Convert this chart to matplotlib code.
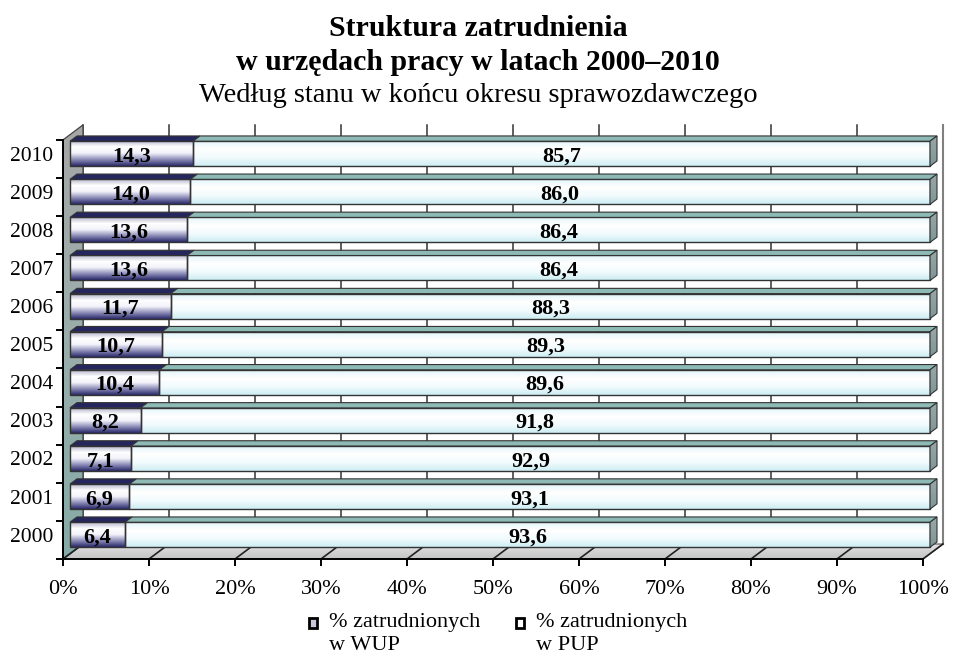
import numpy as np
import matplotlib.pyplot as plt
from matplotlib.patches import Polygon, Rectangle
from matplotlib.colors import LinearSegmentedColormap

plt.rcParams['font.family'] = ['Liberation Serif', 'DejaVu Serif']

# data
years = [2000, 2001, 2002, 2003, 2004, 2005, 2006, 2007, 2008, 2009, 2010]
wup = [6.4, 6.9, 7.1, 8.2, 10.4, 10.7, 11.7, 13.6, 13.6, 14.0, 14.3]
pup = [93.6, 93.1, 92.9, 91.8, 89.6, 89.3, 88.3, 86.4, 86.4, 86.0, 85.7]
x_ticks = [0, 10, 20, 30, 40, 50, 60, 70, 80, 90, 100]
x_tick_labels = [f"{t}%" for t in x_ticks]
legend_labels = ["% zatrudnionych\nw WUP", "% zatrudnionych\nw PUP"]

# layout (pixels of the 954x654 picture)
W, H = 954, 654
PX_X = 8.6      # px per percent
PX_Y = 38.1     # px per category
X0_PX, YB_PX = 63, 559
DX = 20 / PX_X  # full depth of the 3d box, in data units
DY = 15 / PX_Y
DF, DB = 0.35, 0.7   # bars sit between these depth fractions
BAR_H = 25 / PX_Y

xlim = (-1, 103.5)
ylim = (-0.6, 10.5 + DY + 0.12)

fig = plt.figure(figsize=(W / 100, H / 100), dpi=100)
left = X0_PX + xlim[0] * PX_X
right = X0_PX + xlim[1] * PX_X
bot = YB_PX - (ylim[0] + 0.5) * PX_Y
top = YB_PX - (ylim[1] + 0.5) * PX_Y
ax = fig.add_axes([left / W, 1 - bot / H, (right - left) / W, (bot - top) / H])
ax.patch.set_visible(False)


def proj(x, y, d):
    return (x + d * DX, y + d * DY)


def shaded(verts, colors, z, edge='#3a3a3a', lw=0.9):
    poly = Polygon(verts, closed=True, fc='none', ec=edge, lw=lw, zorder=z + 0.1)
    ax.add_patch(poly)
    xs = [v[0] for v in verts]
    ys = [v[1] for v in verts]
    cmap = LinearSegmentedColormap.from_list('g', colors)
    im = ax.imshow(np.linspace(0, 1, 100).reshape(-1, 1), cmap=cmap,
                   extent=(min(xs), max(xs), min(ys), max(ys)),
                   aspect='auto', origin='upper', interpolation='bilinear', zorder=z)
    im.set_clip_path(poly)


n = len(years)
ylo, yhi = -0.5, n - 0.5

# back wall
ax.add_patch(Polygon([proj(0, ylo, 1), proj(100, ylo, 1), proj(100, yhi, 1), proj(0, yhi, 1)],
                     closed=True, fc='white', ec='none', zorder=0.5))
for t in x_ticks:
    ax.plot([t + DX] * 2, [ylo + DY, yhi + DY], color='#808080' if t == 100 else '#333333',
            lw=1.5 if t == 100 else 1.1, zorder=0.8)

# floor
shaded([proj(0, ylo, 0), proj(100, ylo, 0), proj(100, ylo, 1), proj(0, ylo, 1)],
       ['#e2e2e2', '#c4c4c4'], 1, edge='#555555', lw=0.8)
for t in x_ticks:
    p0, p1 = proj(t, ylo, 0), proj(t, ylo, 1)
    ax.plot([p0[0], p1[0]], [p0[1], p1[1]], color='#222222', lw=1.2, zorder=1.3)

# left wall
shaded([proj(0, ylo, 0), proj(0, yhi, 0), proj(0, yhi, 1), proj(0, ylo, 1)],
       ['#a6a6a6', '#9aaeac', '#86aaa6'], 1, edge='#444444', lw=0.9)

# bars
wup_front = ['#b4b4cc', '#ffffff', '#f2f2fa', '#8c8cb8', '#2a2a6a']
pup_front = ['#e4f6fa', '#ffffff', '#f2fbfd', '#cdedf3']
for i in range(n):
    a = wup[i]
    y0, y1 = i - BAR_H / 2, i + BAR_H / 2
    for x0, x1, fcol, tcol in [(0, a, wup_front, '#26265e'), (a, a + pup[i], pup_front, '#8dbab5')]:
        shaded([proj(x0, y0, DF), proj(x1, y0, DF), proj(x1, y1, DF), proj(x0, y1, DF)],
               fcol, 3, edge='#333333', lw=1.0)
        ax.add_patch(Polygon([proj(x0, y1, DF), proj(x1, y1, DF), proj(x1, y1, DB), proj(x0, y1, DB)],
                             closed=True, fc=tcol, ec='#333333', lw=0.8, zorder=3.2))
    x_end = a + pup[i]
    shaded([proj(x_end, y0, DF), proj(x_end, y0, DB), proj(x_end, y1, DB), proj(x_end, y1, DF)],
           ['#9aa8a8', '#7f9696'], 3.3, edge='#333333', lw=0.8)
    cx, cy = proj(a / 2, i, DF)
    ax.text(cx, cy - 0.07, f"{a:.1f}".replace('.', ','), ha='center', va='center',
            fontsize=16, weight='bold', zorder=6)
    cx, cy = proj(a + pup[i] / 2, i, DF)
    ax.text(cx, cy - 0.07, f"{pup[i]:.1f}".replace('.', ','), ha='center', va='center',
            fontsize=16, weight='bold', zorder=6)

# axes
for s in ['top', 'right']:
    ax.spines[s].set_visible(False)
ax.spines['left'].set_position(('data', 0))
ax.spines['left'].set_bounds(ylo, yhi)
ax.spines['bottom'].set_position(('data', ylo))
ax.spines['bottom'].set_bounds(0, 100)
for s in ['left', 'bottom']:
    ax.spines[s].set_linewidth(1.4)
    ax.spines[s].set_zorder(2.5)

ax.set_xticks(x_ticks)
ax.set_xticklabels(x_tick_labels)
ax.tick_params(axis='x', direction='out', length=5, width=1.4, pad=10, labelsize=16)
ax.set_yticks([i + DF * DY for i in range(n)])
ax.set_yticklabels([str(y) for y in years])
ax.set_yticks([i - 0.5 for i in range(n + 1)], minor=True)
ax.tick_params(axis='y', which='major', length=0, pad=7, labelsize=15.5)
ax.tick_params(axis='y', which='minor', direction='out', length=5, width=1.4)
ax.set_xlim(*xlim)
ax.set_ylim(*ylim)

# titles
fig.text(478 / W, 1 - 28 / H, "Struktura zatrudnienia", ha='center', va='center',
         fontsize=21.5, weight='bold')
fig.text(478 / W, 1 - 62 / H, "w urzędach pracy w latach 2000–2010", ha='center', va='center',
         fontsize=21.5, weight='bold')
fig.text(478 / W, 1 - 95 / H, "Według stanu w końcu okresu sprawozdawczego", ha='center',
         va='center', fontsize=20.5)

# legend, drawn by hand so the marker sits on the first text line
legend_faces = ['#c8c8dc', 'white']
legend_x = [313, 520]
for lx, lab, fc in zip(legend_x, legend_labels, legend_faces):
    fig.add_artist(Rectangle(((lx - 4) / W, 1 - 628 / H), 8 / W, 10 / H, transform=fig.transFigure,
                             fc=fc, ec='black', lw=2))
    fig.text((lx + 16) / W, 1 - 613 / H, lab, ha='left', va='top', fontsize=16,
             linespacing=1.3)

fig.savefig('out.png', dpi=100)
